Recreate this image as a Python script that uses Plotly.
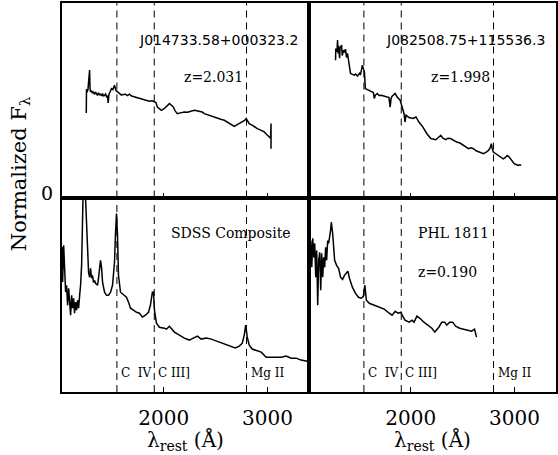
import plotly.graph_objects as go
from plotly.subplots import make_subplots

# ---------------- data ----------------
line_waves = [1549, 1909, 2798]
line_names = ["C\u00a0\u00a0IV", "C\u00a0III]", "Mg\u00a0II"]
x_ticks = [2000, 3000]
x_ticklabels = ["2000", "3000"]

tl_wave = [1254, 1256, 1262, 1270, 1286, 1290, 1295, 1303, 1314, 1322, 1333, 1343, 1353, 1362,
           1372, 1382, 1391, 1401, 1411, 1420, 1430, 1440, 1449, 1459, 1465, 1469, 1473, 1485,
           1497, 1510, 1526, 1540, 1555, 1570, 1593, 1610, 1632, 1650, 1670, 1690, 1718, 1740,
           1766, 1790, 1814, 1840, 1862, 1890, 1911, 1925, 1939, 1958, 1978, 2000, 2026, 2040,
           2055, 2075, 2093, 2110, 2132, 2160, 2199, 2230, 2265, 2295, 2320, 2343, 2370, 2391,
           2420, 2450, 2488, 2520, 2550, 2584, 2610, 2640, 2680, 2700, 2728, 2760, 2780, 2795,
           2810, 2824, 2860, 2901, 2930, 2968, 2990, 3016, 3030, 3034, 3034]
tl_flux = [4.35, 5.57, 5.41, 5.55, 6.55, 5.60, 5.43, 5.50, 5.36, 5.45, 5.30, 5.42, 5.35, 5.25,
           5.38, 5.28, 5.31, 5.22, 5.35, 5.20, 5.26, 5.32, 5.18, 5.21, 4.86, 5.30, 5.31, 5.45,
           5.60, 5.55, 5.77, 5.50, 5.43, 5.38, 5.26, 5.30, 5.31, 5.24, 5.31, 5.22, 5.17, 5.14,
           5.10, 5.08, 5.04, 4.98, 4.95, 4.97, 4.91, 4.88, 4.65, 4.55, 4.48, 4.55, 4.65, 4.75,
           4.83, 4.72, 4.65, 4.45, 4.31, 4.35, 4.40, 4.38, 4.45, 4.48, 4.46, 4.45, 4.40, 4.31,
           4.25, 4.20, 4.14, 4.08, 4.02, 3.97, 3.88, 3.80, 3.66, 3.72, 3.80, 3.88, 3.96, 4.06,
           3.92, 3.80, 3.70, 3.54, 3.48, 3.37, 3.25, 3.11, 3.05, 3.80, 2.51]

tr_wave = [1276, 1278, 1290, 1295, 1300, 1305, 1315, 1320, 1334, 1340, 1353, 1362, 1372, 1381,
           1391, 1400, 1410, 1420, 1440, 1458, 1470, 1487, 1506, 1515, 1525, 1534, 1545, 1554,
           1563, 1580, 1601, 1615, 1630, 1640, 1649, 1659, 1678, 1695, 1716, 1745, 1773, 1790,
           1802, 1811, 1821, 1850, 1869, 1898, 1917, 1936, 1945, 1955, 1984, 2022, 2051, 2079,
           2118, 2156, 2194, 2242, 2290, 2310, 2337, 2360, 2385, 2415, 2443, 2475, 2510, 2535,
           2557, 2580, 2605, 2630, 2653, 2680, 2701, 2725, 2749, 2765, 2777, 2786, 2796, 2820,
           2844, 2870, 2892, 2910, 2930, 2945, 2959, 2980, 2997, 3015, 3036, 3050, 3065]
tr_flux = [7.06, 7.66, 7.50, 8.09, 7.40, 7.80, 7.16, 7.70, 7.84, 7.30, 7.58, 7.45, 7.63, 7.20,
           7.41, 7.00, 6.72, 6.38, 6.33, 6.29, 6.35, 6.24, 6.38, 6.30, 6.55, 6.80, 6.60, 6.46,
           5.60, 5.55, 5.52, 5.48, 5.43, 5.40, 5.09, 5.26, 5.35, 5.25, 5.26, 5.20, 5.17, 5.15,
           4.65, 5.10, 5.21, 5.35, 5.17, 5.00, 4.65, 4.31, 3.88, 4.23, 4.11, 4.06, 4.14, 3.88,
           3.62, 3.28, 3.03, 2.97, 3.20, 3.05, 2.97, 3.05, 3.03, 2.92, 2.85, 2.80, 2.68, 2.62,
           2.51, 2.55, 2.51, 2.40, 2.34, 2.30, 2.25, 2.32, 2.42, 2.55, 2.77, 2.50, 2.34, 2.25,
           2.16, 2.08, 1.99, 2.05, 2.16, 2.10, 1.99, 1.85, 1.74, 1.70, 1.65, 1.68, 1.65]

bl_wave = [1023, 1026, 1036, 1045, 1055, 1064, 1074, 1084, 1093, 1103, 1113, 1122, 1132, 1141,
           1151, 1161, 1170, 1180, 1190, 1199, 1209, 1218, 1228, 1238, 1247, 1257, 1266, 1276,
           1286, 1295, 1305, 1314, 1324, 1334, 1343, 1363, 1372, 1382, 1391, 1401, 1411, 1430,
           1449, 1468, 1488, 1507, 1526, 1536, 1545, 1555, 1564, 1584, 1613, 1641, 1661, 1680,
           1709, 1738, 1766, 1795, 1824, 1853, 1872, 1891, 1901, 1911, 1930, 1959, 2007, 2026,
           2055, 2074, 2103, 2151, 2199, 2247, 2295, 2324, 2362, 2411, 2459, 2507, 2555, 2603,
           2651, 2689, 2728, 2757, 2776, 2790, 2805, 2824, 2853, 2891, 2939, 2988, 3036, 3084,
           3132, 3180, 3228, 3276, 3324, 3372, 3401]
bl_flux = [7.45, 5.66, 7.54, 6.00, 5.14, 5.49, 4.46, 5.33, 4.82, 3.95, 4.97, 4.31, 4.82, 4.05,
           4.62, 4.21, 4.72, 4.31, 4.97, 5.49, 6.51, 8.05, 9.85, 14.0, 9.95, 8.56, 7.18, 6.15,
           5.90, 6.36, 5.85, 6.00, 5.64, 5.74, 5.59, 5.49, 5.85, 6.41, 6.77, 6.41, 5.64, 5.13,
           4.97, 4.97, 5.13, 5.49, 6.67, 8.21, 9.18, 8.05, 6.00, 5.13, 4.97, 4.87, 4.62, 4.31,
           4.21, 4.10, 4.05, 3.85, 3.95, 4.10, 4.46, 5.13, 5.14, 4.21, 3.54, 3.33, 3.28, 3.23,
           3.38, 3.28, 3.08, 2.92, 2.77, 2.67, 2.82, 2.87, 2.72, 2.77, 2.72, 2.62, 2.51, 2.41,
           2.31, 2.26, 2.36, 2.51, 2.92, 3.44, 2.82, 2.41, 2.21, 2.15, 2.05, 1.79, 1.79, 1.79,
           1.79, 1.85, 1.74, 1.74, 1.64, 1.59, 1.54]

br_wave = [1032, 1037, 1047, 1056, 1066, 1075, 1085, 1094, 1104, 1113, 1123, 1133, 1142, 1152,
           1161, 1171, 1180, 1190, 1200, 1209, 1228, 1235, 1248, 1257, 1267, 1286, 1305, 1324,
           1343, 1362, 1394, 1410, 1439, 1467, 1496, 1525, 1544, 1558, 1573, 1601, 1649, 1697,
           1745, 1793, 1821, 1850, 1879, 1907, 1917, 1945, 1984, 2012, 2032, 2060, 2089, 2127,
           2165, 2204, 2232, 2271, 2299, 2328, 2347, 2376, 2404, 2433, 2472, 2510, 2548, 2586,
           2615, 2634]
br_flux = [7.28, 7.79, 6.41, 7.90, 6.92, 7.64, 5.90, 7.28, 4.46, 6.77, 7.18, 5.23, 7.13, 5.90,
           6.92, 6.41, 7.44, 6.77, 7.79, 7.64, 8.31, 8.73, 8.15, 7.64, 6.77, 6.51, 6.36, 5.90,
           5.79, 6.00, 6.21, 5.85, 5.38, 5.08, 4.87, 4.82, 4.92, 5.49, 4.72, 4.56, 4.46, 4.36,
           4.26, 4.05, 3.95, 4.15, 4.05, 4.10, 3.95, 3.69, 3.59, 3.69, 3.59, 3.90, 3.79, 3.59,
           3.44, 3.28, 3.08, 3.33, 3.59, 3.59, 3.44, 3.59, 3.59, 3.38, 3.28, 3.23, 3.18, 3.13,
           3.23, 2.82]

x_range = [1020, 3400]
y_range = [0, 10]

# ---------------- figure ----------------
fig = make_subplots(rows=2, cols=2, horizontal_spacing=0, vertical_spacing=0)

spectra = [(tl_wave, tl_flux, 1, 1), (tr_wave, tr_flux, 1, 2),
           (bl_wave, bl_flux, 2, 1), (br_wave, br_flux, 2, 2)]
for w, f, r, c in spectra:
    fig.add_trace(go.Scatter(x=w, y=f, mode="lines",
                             line=dict(color="black", width=1.5),
                             showlegend=False, hoverinfo="skip"), row=r, col=c)

for lw in line_waves:
    fig.add_vline(x=lw, row="all", col="all",
                  line=dict(color="black", width=1, dash="7px,5px"))

serif = "DejaVu Serif"
axis_common = dict(showline=True, mirror=True, linecolor="black", linewidth=1.5,
                   showgrid=False, zeroline=False)

fig.update_xaxes(range=x_range, tickvals=x_ticks, ticktext=x_ticklabels,
                 ticks="inside", ticklen=5, tickwidth=1.2, tickcolor="black",
                 tickfont=dict(family=serif, size=20, color="black"),
                 **axis_common)
fig.update_xaxes(showticklabels=False, row=1)
fig.update_xaxes(ticklabelstandoff=7, row=2)
fig.update_yaxes(range=y_range, showticklabels=False, ticks="", **axis_common)

fig.update_layout(
    width=558, height=455,
    margin=dict(l=62, r=0, t=3, b=63),
    paper_bgcolor="white", plot_bgcolor="white",
    font=dict(family=serif, color="black"),
)
# exact domains
fig.update_layout(
    xaxis=dict(domain=[0, 0.5]), xaxis2=dict(domain=[0.5, 1]),
    xaxis3=dict(domain=[0, 0.5]), xaxis4=dict(domain=[0.5, 1]),
    yaxis=dict(domain=[0.5, 1]), yaxis2=dict(domain=[0.5, 1]),
    yaxis3=dict(domain=[0, 0.5]), yaxis4=dict(domain=[0, 0.5]),
)

ann = []
def add_text(text, x, y, xref, yref, size, family=serif, xanchor="center", xshift=0, yshift=0):
    ann.append(dict(text=text, x=x, y=y, xref=xref, yref=yref, showarrow=False,
                    xanchor=xanchor, yanchor="middle", xshift=xshift, yshift=yshift,
                    font=dict(family=family, size=size, color="black")))

sans = "DejaVu Sans"
add_text("J014733.58+000323.2", 3310, 8.09, "x", "y", 14, family=sans, xanchor="right")
add_text("z=2.031", 2478, 6.19, "x", "y", 14)
add_text("J082508.75+115536.3", 3310, 8.09, "x2", "y2", 14, family=sans, xanchor="right")
add_text("z=1.998", 2475, 6.19, "x2", "y2", 14)
add_text("SDSS Composite", 2053, 8.15, "x3", "y3", 14, xanchor="left")
add_text("PHL 1811", 2053, 8.15, "x4", "y4", 14, xanchor="left")
add_text("z=0.190", 2053, 6.15, "x4", "y4", 14, xanchor="left")
for xr, yr in [("x3", "y3"), ("x4", "y4")]:
    for lw, nm in zip(line_waves, line_names):
        add_text(nm, lw, 1.0, xr, yr, 12, xanchor="left", xshift=2)

# tick "0" on the top-left panel
add_text("0", 0, 0, "paper", "y", 19, xanchor="right", xshift=-7, yshift=5)
# axis titles
for xr in ["x3 domain", "x4 domain"]:
    ann.append(dict(text="λ<sub>rest</sub> (Å)", x=0.5, y=0, xref=xr, yref="paper",
                    showarrow=False, xanchor="center", yanchor="top", yshift=-33,
                    font=dict(family=serif, size=20, color="black")))
ann.append(dict(text="Normalized F<sub>λ</sub>", x=0, y=0.56, xref="paper", yref="paper",
                showarrow=False, xanchor="center", yanchor="middle", xshift=-42,
                textangle=-90, font=dict(family=serif, size=21, color="black")))
fig.update_layout(annotations=ann)

fig.write_html("out.html", config={"displayModeBar": False},
               post_script="document.body.style.margin='0';document.body.style.overflow='hidden';")
